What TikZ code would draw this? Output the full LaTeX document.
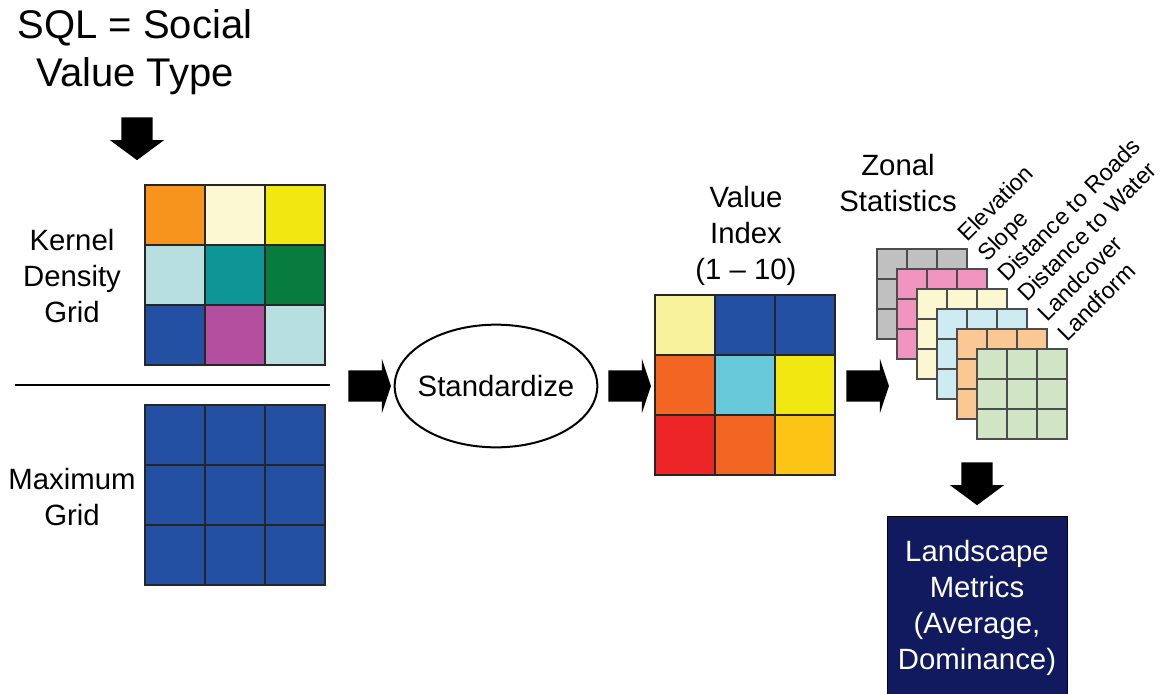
\documentclass[tikz,border=0pt]{standalone}
\usepackage{fontspec}
\setmainfont{Liberation Sans}
\usetikzlibrary{shapes.geometric,shapes.arrows}

\definecolor{kdOrange}{HTML}{F7941D}
\definecolor{kdCream}{HTML}{FCF9D2}
\definecolor{kdYellow}{HTML}{F2E811}
\definecolor{kdPale}{HTML}{B7DFE0}
\definecolor{kdTeal}{HTML}{0E9696}
\definecolor{kdGreen}{HTML}{087B3F}
\definecolor{kdBlue}{HTML}{2450A4}
\definecolor{kdMagenta}{HTML}{B44F9F}
\definecolor{viLemon}{HTML}{F7F29B}
\definecolor{viOrange}{HTML}{F26522}
\definecolor{viCyan}{HTML}{67C9D9}
\definecolor{viRed}{HTML}{EE2526}
\definecolor{viGold}{HTML}{FCC516}
\definecolor{zsGray}{HTML}{C0C0C0}
\definecolor{zsPink}{HTML}{F194BF}
\definecolor{zsCream}{HTML}{FBF7D0}
\definecolor{zsSky}{HTML}{CFEBF2}
\definecolor{zsPeach}{HTML}{FBC894}
\definecolor{zsMint}{HTML}{CFE5C4}
\definecolor{lmNavy}{HTML}{111A5E}

\begin{document}
\begin{tikzpicture}
[x=0.75pt,y=-0.75pt,
 cell/.style={draw=black!85,line width=0.8pt,minimum size=45pt,inner sep=0pt,outer sep=0pt},
 smallcell/.style={draw=black!70,line width=0.8pt,minimum size=22.5pt,inner sep=0pt,outer sep=0pt},
 blockarrow/.style={single arrow,fill=black,draw=none,inner xsep=0pt,inner ysep=11.6pt,
   minimum height=32pt,single arrow head extend=8.6pt,single arrow tip angle=143},
 downarrow/.style={blockarrow,rotate=-90,single arrow tip angle=107},
 caption/.style={align=center,font=\fontsize{22}{27}\selectfont},
 layerlabel/.style={anchor=base west,rotate=45,inner sep=0pt,font=\fontsize{17.5}{20}\selectfont},]

\useasboundingbox (0,0) rectangle (1167,693);

%Title and first arrow
\node (sql) at (135,52)[align=center,font=\fontsize{30}{36}\selectfont] {SQL = Social\\ Value Type};
\node (down1) at (137,133)[downarrow] {};

%Kernel density grid
\foreach \clr [count=\k from 0] in {kdOrange,kdCream,kdYellow,kdPale,kdTeal,kdGreen,kdBlue,kdMagenta,kdPale}{
  \pgfmathtruncatemacro\ri{\k/3}
  \pgfmathtruncatemacro\ci{\k-3*\ri}
  \node (kd\k) at (175+60*\ci,215+60*\ri)[cell,fill=\clr] {};
}
\node (kdlabel) at (72,276)[caption] {Kernel\\ Density\\ Grid};

%Dividing line
\coordinate (divL) at (15,385);
\coordinate (divR) at (330,385);
\draw[line width=1.5pt] (divL) -- (divR);

%Maximum grid
\foreach \k in {0,...,8}{
  \pgfmathtruncatemacro\ri{\k/3}
  \pgfmathtruncatemacro\ci{\k-3*\ri}
  \node (mx\k) at (175+60*\ci,435+60*\ri)[cell,fill=kdBlue] {};
}
\node (mxlabel) at (72,497)[caption] {Maximum\\ Grid};

%Standardize step
\node (right1) at (367,386)[blockarrow] {};
\node (std) at (496,386)[ellipse,draw,line width=1.5pt,inner sep=0pt,minimum width=152pt,minimum height=92pt,caption] {\makebox[0pt]{Standardize}};
\node (right2) at (627,386)[blockarrow] {};

%Value index grid
\foreach \clr [count=\k from 0] in {viLemon,kdBlue,kdBlue,viOrange,viCyan,kdYellow,viRed,viOrange,viGold}{
  \pgfmathtruncatemacro\ri{\k/3}
  \pgfmathtruncatemacro\ci{\k-3*\ri}
  \node (vi\k) at (685+60*\ci,325+60*\ri)[cell,fill=\clr] {};
}
\node (vilabel) at (746,236)[caption] {Value\\ Index\\ (1 -- 10)};

\node (right3) at (865,386)[blockarrow] {};

%Zonal statistics layers
\node (zslabel) at (898,183)[caption] {Zonal\\ Statistics};
\foreach \clr/\txt [count=\l from 0] in {zsGray/Elevation,zsPink/Slope,zsCream/Distance to Roads,
    zsSky/Distance to Water,zsPeach/Landcover,zsMint/Landform}{
  \foreach \k in {0,...,8}{
    \pgfmathtruncatemacro\ri{\k/3}
    \pgfmathtruncatemacro\ci{\k-3*\ri}
    \node (zs\l-\k) at (892+20*\l+30*\ci,264+20*\l+30*\ri)[smallcell,fill=\clr] {};
  }
  \node (zt\l) at (967+20*\l,243+20*\l)[layerlabel] {\txt};
}

%Landscape metrics
\node (down2) at (977,478)[downarrow] {};
\node (lm) at (977,608)[fill=lmNavy,draw=black,minimum width=135pt,minimum height=138pt,
  text=white,caption] {Landscape\\ Metrics\\ (Average,\\ Dominance)};
\end{tikzpicture}
\end{document}
